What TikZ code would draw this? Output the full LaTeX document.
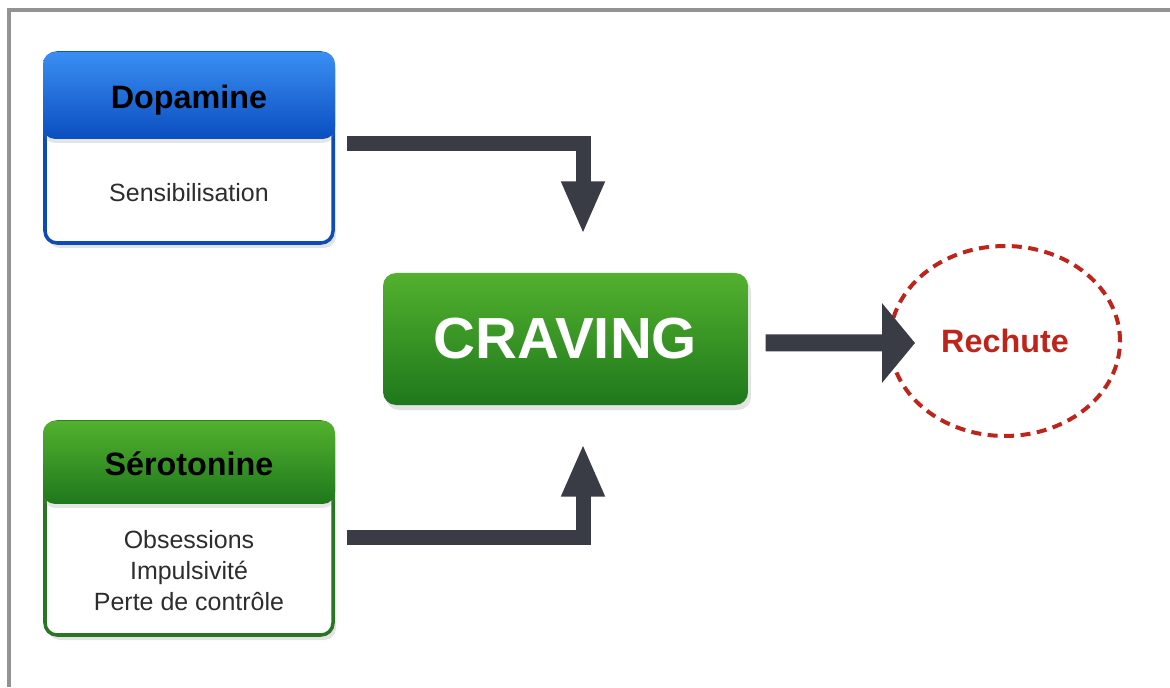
\documentclass[tikz,border=0pt]{standalone}
\usepackage{fontspec}
\setmainfont{Liberation Sans}
\usetikzlibrary{calc}
\usetikzlibrary{arrows.meta}
\usetikzlibrary{shadows}
\usetikzlibrary{shapes.geometric}
\usetikzlibrary{positioning}

\definecolor{arrowgray}{RGB}{57,60,68}
\definecolor{textgray}{RGB}{45,45,45}
\definecolor{bluetop}{RGB}{58,142,242}
\definecolor{bluebot}{RGB}{10,78,192}
\definecolor{blueline}{RGB}{12,77,181}
\definecolor{greentop}{RGB}{83,177,46}
\definecolor{greenbot}{RGB}{30,120,28}
\definecolor{greenline}{RGB}{40,118,36}
\definecolor{relapse}{RGB}{190,36,26}

\begin{document}
\begin{tikzpicture}[
  frame/.style={draw=gray!85, line width=0.9pt},
  card/.style={draw=#1, line width=1pt, fill=white, rounded corners=1.2mm,
    minimum width=2.88cm, inner sep=0pt,
    drop shadow={opacity=0.22, shadow xshift=0.3mm, shadow yshift=-0.5mm}},
  cardhead/.style={rounded corners=1.2mm, minimum width=2.92cm, inner sep=0pt,
    anchor=north, text height=0.72em, text depth=0pt,
    font=\fontsize{9.2}{11}\selectfont\bfseries},
  cardtext/.style={align=center, text=textgray, font=\fontsize{7.1}{8.8}\selectfont},
  fatarrow/.style={draw=arrowgray, line width=1.5mm, line join=miter,
    -{Triangle[length=5.3mm, width=4mm]}},
]
\useasboundingbox (0,0) rectangle (11.7,6.87);
\draw[frame] (0.09,0) -- (0.09,6.77) -- (11.7,6.77);

% dopamine
\node[card=blueline, minimum height=1.9cm] (dopa) at (1.89,5.39) {};
\node[cardhead, minimum height=0.87cm, top color=bluetop, bottom color=bluebot,
  drop shadow={opacity=0.2, shadow xshift=0mm, shadow yshift=-0.4mm}]
  (dopahead) at (dopa.north) {Dopamine};
\node[cardtext] (dopatxt) at ($(dopahead.south)!0.5!(dopa.south)$) {Sensibilisation};

% serotonine
\node[card=greenline, minimum height=2.13cm] (sero) at (1.89,1.585) {};
\node[cardhead, minimum height=0.83cm, top color=greentop, bottom color=greenbot,
  drop shadow={opacity=0.2, shadow xshift=0mm, shadow yshift=-0.4mm}]
  (serohead) at (sero.north) {Sérotonine};
\node[cardtext] (serotxt) at ($(serohead.south)!0.5!(sero.south)$)
  {Obsessions\\Impulsivité\\Perte de contrôle};

% craving
\node[rounded corners=1.3mm, top color=greentop, bottom color=greenbot,
  minimum width=3.65cm, minimum height=1.32cm, inner sep=0pt, text=white,
  font=\fontsize{16.5}{18}\selectfont\bfseries,
  drop shadow={opacity=0.22, shadow xshift=0.3mm, shadow yshift=-0.5mm}]
  (crav) at (5.655,3.48) {CRAVING};

% rechute
\node[ellipse, draw=relapse, line width=0.4mm, dash pattern=on 1mm off 0.65mm,
  minimum width=2.3cm, minimum height=1.9cm, text=relapse,
  font=\fontsize{9.2}{11}\selectfont\bfseries] (rech) at (10.05,3.46) {Rechute};

\draw[fatarrow] ([xshift=1.2mm,yshift=0.45mm]dopa.east) -| ([xshift=1.75mm,yshift=3.8mm]crav.north);
\draw[fatarrow] ([xshift=1.2mm,yshift=-0.85mm]sero.east) -| ([xshift=1.75mm,yshift=-3.8mm]crav.south);
\draw[fatarrow, line width=1.7mm, -{Triangle[length=3.3mm, width=7.8mm]}]
  ([xshift=1.7mm,yshift=-0.4mm]crav.east) -- ([xshift=2.7mm,yshift=-0.2mm]rech.west);
\end{tikzpicture}
\end{document}
